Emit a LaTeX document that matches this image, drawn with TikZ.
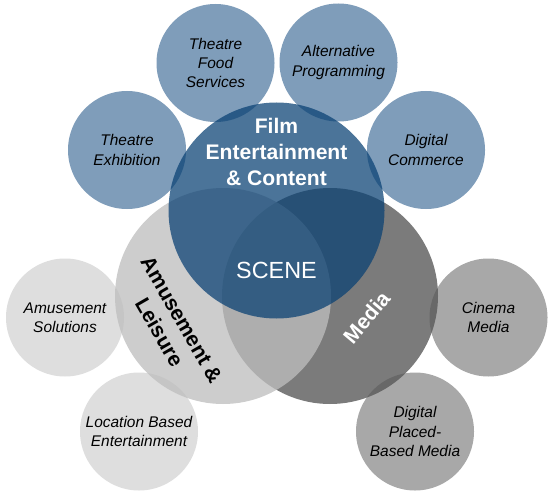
\documentclass[tikz,border=0pt]{standalone}
\usepackage{fontspec}
\setmainfont{Liberation Sans}
\newcommand{\ringfont}{\fontsize{8.8}{11}\selectfont\itshape}
\newcommand{\hubfont}{\fontsize{12}{14.6}\selectfont\bfseries}

\begin{document}
\begin{tikzpicture}[every node/.style={font=\ringfont, align=center}]
\definecolor{ringblue}{RGB}{127,157,186}
\definecolor{ringlight}{RGB}{222,222,222}
\definecolor{ringmid}{RGB}{168,168,168}
\definecolor{filmblue}{RGB}{8,64,115}
\definecolor{amusegrey}{RGB}{190,190,190}
\definecolor{mediagrey}{RGB}{88,88,88}
\tikzset{
  ring/.style={circle, minimum size=2.36cm, inner sep=0pt},
  hub/.style={circle, minimum size=4.32cm, inner sep=0pt}
}
\useasboundingbox (0,0) rectangle (10.98,9.84);
% Segment circles: {name, x, y, fill, label}
\foreach \nm/\x/\y/\clr/\txt in {
  exhibition/2.54/6.84/ringblue/{Theatre\\Exhibition},
  food/4.31/8.58/ringblue/{Theatre\\Food\\Services},
  altprog/6.77/8.59/ringblue/{Alternative\\Programming},
  commerce/8.52/6.84/ringblue/{Digital\\Commerce},
  amusesol/1.30/3.49/ringlight/{Amusement\\Solutions},
  location/2.78/1.21/ringlight/{Location Based\\Entertainment},
  cinema/9.77/3.49/ringmid/{Cinema\\Media},
  placed/8.30/1.21/ringmid/{Digital\\Placed-\\Based Media}%
} {
  \node[ring, fill=\clr] (\nm) at (\x,\y) {\txt};
}
% Main circles (see-through)
\node[hub, fill=mediagrey, fill opacity=0.79] (media) at (6.60,3.92) {};
\node[hub, fill=amusegrey, fill opacity=0.77] (amuse) at (4.46,3.92) {};
\node[hub, fill=filmblue, fill opacity=0.73] (film) at (5.53,5.63) {};
% Main labels
\node[font=\hubfont, white] (filmlbl) at (5.53,6.80) {Film\\Entertainment\\\& Content};
\node[font=\fontsize{13.3}{16}\selectfont, white] (scene) at (5.53,4.44) {SCENE};
\node[font=\hubfont, rotate=-60] (amuselbl) at (3.41,3.32) {Amusement \&\\Leisure};
\node[font=\hubfont, white, rotate=50] (medialbl) at (7.33,3.49) {Media};
\end{tikzpicture}
\end{document}
